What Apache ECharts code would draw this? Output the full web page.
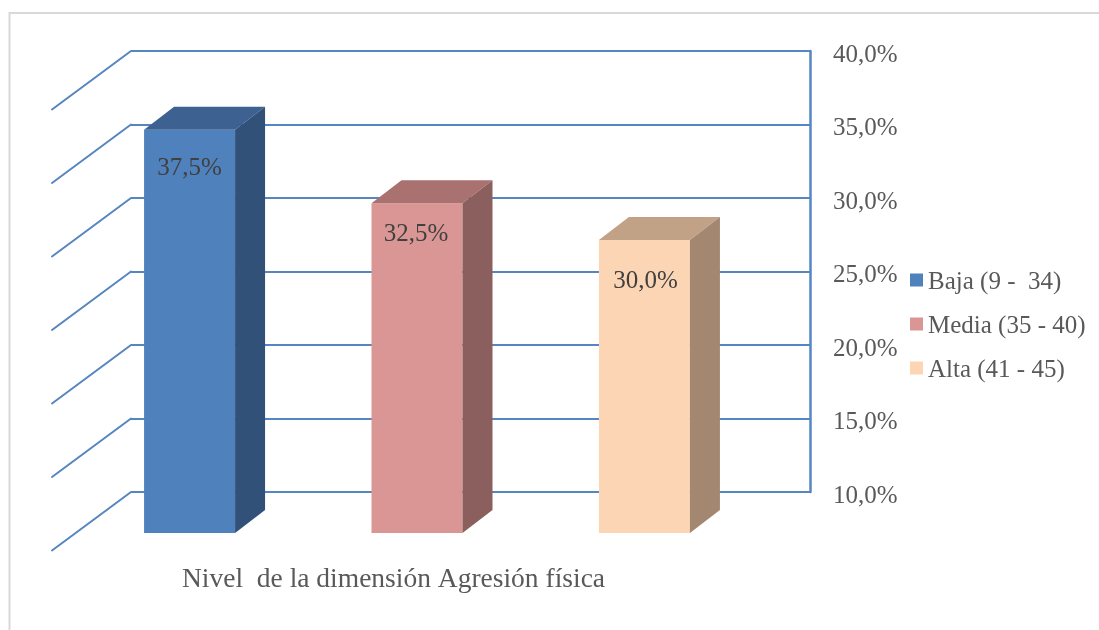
<!DOCTYPE html>
<html><head><meta charset="utf-8">
<style>html,body{margin:0;padding:0;background:#fff}#c{width:1099px;height:630px}</style>
<script src="https://cdn.jsdelivr.net/npm/echarts@6/dist/echarts.min.js"></script></head>
<body><div id="c"></div>
<script>
const seriesNames = ['Baja (9 -  34)', 'Media (35 - 40)', 'Alta (41 - 45)'];
const seriesValues = [37.5, 32.5, 30.0];
const frontColors = ['#4f81bd', '#d99694', '#fcd5b5'];
const topColors = ['#3d6291', '#a97271', '#c1a286'];
const sideColors = ['#325179', '#8b5f5e', '#a38771'];
const wallTicks = [10, 15, 20, 25, 30, 35, 40];
const categories = ['Nivel  de la dimensión Agresión física'];
const labelDrops = [39, 31, 41];
const labelShifts = [0, -1, 1];
const fontFamily = '"Liberation Serif", "DejaVu Serif", serif';
const textColor = '#595959';
const gridColor = '#5586bf';
const DEPTH_X = 79, DEPTH_Y = 58.5;   // full floor depth of the 3D box
const BAR_OFF_X = 57, BAR_OFF_Y = 41; // front of the bars relative to back wall
const BAR_DX = 30, BAR_DY = 23;       // depth of each bar

const chart = echarts.init(document.getElementById('c'));

function barRender(idx) {
  return function (params, api) {
    const v = api.value(1);
    const top = api.coord([0, v]);
    const base = api.coord([0, wallTicks[0]]);
    const cs = params.coordSys;
    const slot = cs.width / seriesNames.length;
    const w = 91;
    const cx = cs.x + slot * (idx + 0.5) - BAR_OFF_X + 3.5 + (idx - 1) * 1.1;
    const x0 = cx - w / 2, x1 = cx + w / 2;
    const y0 = top[1] + BAR_OFF_Y + 1, y1 = base[1] + BAR_OFF_Y;
    return {
      type: 'group',
      children: [
        { type: 'rect', shape: { x: x0, y: y0, width: w, height: y1 - y0 }, style: { fill: frontColors[idx] } },
        { type: 'polygon', shape: { points: [[x0, y0], [x0 + BAR_DX, y0 - BAR_DY], [x1 + BAR_DX, y0 - BAR_DY], [x1, y0]] }, style: { fill: topColors[idx] } },
        { type: 'polygon', shape: { points: [[x1, y0], [x1 + BAR_DX, y0 - BAR_DY], [x1 + BAR_DX, y1 - BAR_DY], [x1, y1]] }, style: { fill: sideColors[idx] } },
        { type: 'text', style: { x: (x0 + x1) / 2 + labelShifts[idx], y: y0 + labelDrops[idx], text: v.toFixed(1).replace('.', ',') + '%', align: 'center', verticalAlign: 'middle', font: '25px ' + fontFamily, fill: '#404040' } }
      ]
    };
  };
}

function wallRender(params, api) {
  const p = api.coord([0, api.value(1)]);
  const cs = params.coordSys;
  return {
    type: 'line',
    shape: { x1: cs.x, y1: p[1], x2: cs.x - DEPTH_X, y2: p[1] + DEPTH_Y },
    style: { stroke: gridColor, lineWidth: 2, lineCap: 'round' }
  };
}

chart.setOption({
  animation: false,
  backgroundColor: '#fff',
  textStyle: { fontFamily },
  grid: { left: 131, right: 289, top: 51, bottom: 138 },
  graphic: [{ type: 'rect', silent: true, z: -1, shape: { x: 9.5, y: 13, width: 1200, height: 700 }, style: { fill: 'none', stroke: '#d9d9d9', lineWidth: 2 } }],
  xAxis: { type: 'category', data: seriesNames, axisLine: { show: false }, axisTick: { show: false }, axisLabel: { show: false } },
  yAxis: {
    type: 'value', position: 'right', min: 10, max: 40, interval: 5,
    axisLine: { show: true, lineStyle: { color: gridColor, width: 2.5 } }, axisTick: { show: false },
    splitLine: { show: true, lineStyle: { color: gridColor, width: 2 } },
    axisLabel: { margin: 23, color: textColor, fontSize: 25, fontFamily, verticalAlign: 'top', lineHeight: 8, formatter: v => v.toFixed(1).replace('.', ',') + '%' }
  },
  legend: {
    orient: 'vertical', left: 905, top: 264.5, itemWidth: 13, itemHeight: 13, itemGap: 19,
    formatter: n => '{a|' + n + '}',
    textStyle: { color: textColor, fontSize: 25, fontFamily, rich: { a: { color: textColor, fontSize: 25, fontFamily, padding: [4, 0, 0, 0] } } }, icon: 'rect',
    data: seriesNames.map((n, i) => ({ name: n, itemStyle: { color: frontColors[i] } }))
  },
  title: {
    text: categories[0], left: 388.5, top: 561, textAlign: 'center',
    textStyle: { color: textColor, fontSize: 27.5, fontWeight: 'normal', fontFamily }
  },
  series: [
    { type: 'custom', name: 'pared', data: wallTicks.map(t => [0, t]), renderItem: wallRender, silent: true, z: 1 },
    ...seriesNames.map((n, i) => ({
      type: 'custom', name: n, itemStyle: { color: frontColors[i] }, z: 2 + i,
      data: [[i, seriesValues[i]]], renderItem: barRender(i), encode: { x: 0, y: 1 }
    }))
  ]
});
</script></body></html>
